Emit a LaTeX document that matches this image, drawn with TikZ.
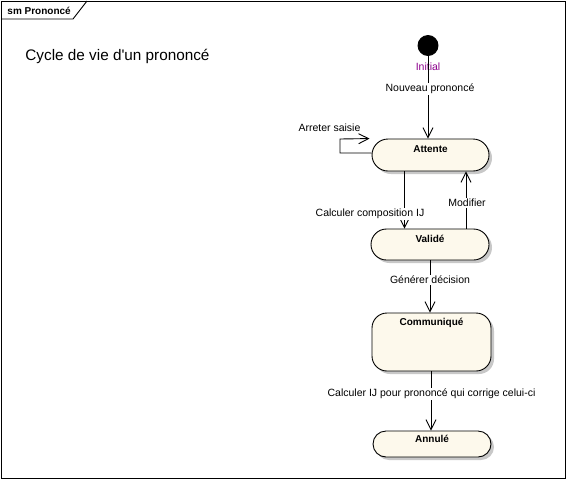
\documentclass[tikz,border=0pt]{standalone}
\usepackage{fontspec}
\setmainfont{Liberation Sans}
\newfontfamily\plainfont{Liberation Sans}
\usetikzlibrary{arrows.meta,shadows}
\definecolor{statefill}{RGB}{253,249,236}
\definecolor{shadowgray}{RGB}{200,200,200}
\definecolor{initpurple}{RGB}{140,0,140}
\begin{document}
\begin{tikzpicture}[x=1pt,y=-1pt,
  line width=0.9pt,
  state/.style={draw=black, fill=statefill, inner sep=0pt,
    drop shadow={shadow xshift=3pt, shadow yshift=-3pt, fill=shadowgray, opacity=1}},
  statename/.style={anchor=base, inner sep=0pt, font=\fontsize{10}{12}\selectfont\bfseries},
  lbl/.style={inner sep=1pt, font=\fontsize{10.5}{12}\selectfont},
  lblw/.style={lbl, fill=white},
  arr/.style={-{Straight Barb[length=10pt,width=10pt,line width=0.9pt]}},
]
\useasboundingbox (0,0) rectangle (567,480);
% frame
\draw[line width=0.9pt] (1,1) rectangle (565,478.5);
\coordinate (tabA) at (1,19);
\coordinate (tabB) at (73,19);
\coordinate (tabC) at (87,1);
\draw (tabA) -- (tabB) -- (tabC);
\node[anchor=base west, inner sep=0pt, font=\fontsize{10}{12}\selectfont\bfseries] (tab) at (7,14.5) {sm Prononcé};
% title
\node[anchor=base west, inner sep=0pt, font=\plainfont\fontsize{15.3}{18}\selectfont] (title) at (25,60) {Cycle de vie d'un prononcé};

% initial
\node[circle, fill=black, draw=black, minimum size=20pt, inner sep=0pt] (init) at (428,45.5) {};
\node[lbl, text=initpurple] (initlbl) at (428,67) {Initial};

% states
\node[state, minimum width=117pt, minimum height=32pt, rounded corners=16pt] (att) at (430.5,155) {};
\node[statename] (attn) at ([yshift=-13.6pt]att.north) {Attente};
\node[state, minimum width=118pt, minimum height=31pt, rounded corners=15.5pt] (val) at (430,244.5) {};
\node[statename] (valn) at ([yshift=-13.6pt]val.north) {Validé};
\node[state, minimum width=119pt, minimum height=58pt, rounded corners=15pt] (com) at (431.5,342) {};
\node[statename] (comn) at ([yshift=-12.6pt]com.north) {Communiqué};
\node[state, minimum width=118pt, minimum height=26pt, rounded corners=13pt] (ann) at (432,444) {};
\node[statename] (annn) at ([yshift=-11.6pt]ann.north) {Annulé};

% transitions
\draw[arr] (init) -- (init |- att.north);
\node[lblw] (l1) at (430,89) {Nouveau prononcé};

\coordinate (loopA) at (340,153);
\coordinate (loopB) at (340,139);
\draw[arr] ([yshift=2pt]att.west) -- (loopA) -- (loopB) -- ([xshift=-2pt]att.north west);
\node[lbl] (l2) at (329.5,128) {Arreter saisie};

\draw[arr] ([xshift=-26pt]att.south) -- ([xshift=-25.5pt]val.north);
\node[lblw] (l3) at (370,214) {Calculer composition IJ};

\draw[arr] ([xshift=36pt]val.north) -- ([xshift=35.5pt]att.south);
\node[lblw] (l4) at (467,203) {Modifier};

\draw[arr] (val.south) -- (val.south |- com.north);
\node[lblw] (l5) at (430,280) {Générer décision};

\draw[arr] ([xshift=-0.5pt]com.south) -- ([xshift=-1pt]ann.north);
\node[lblw] (l6) at (431.5,394) {Calculer IJ pour prononcé qui corrige celui-ci};
\end{tikzpicture}
\end{document}
